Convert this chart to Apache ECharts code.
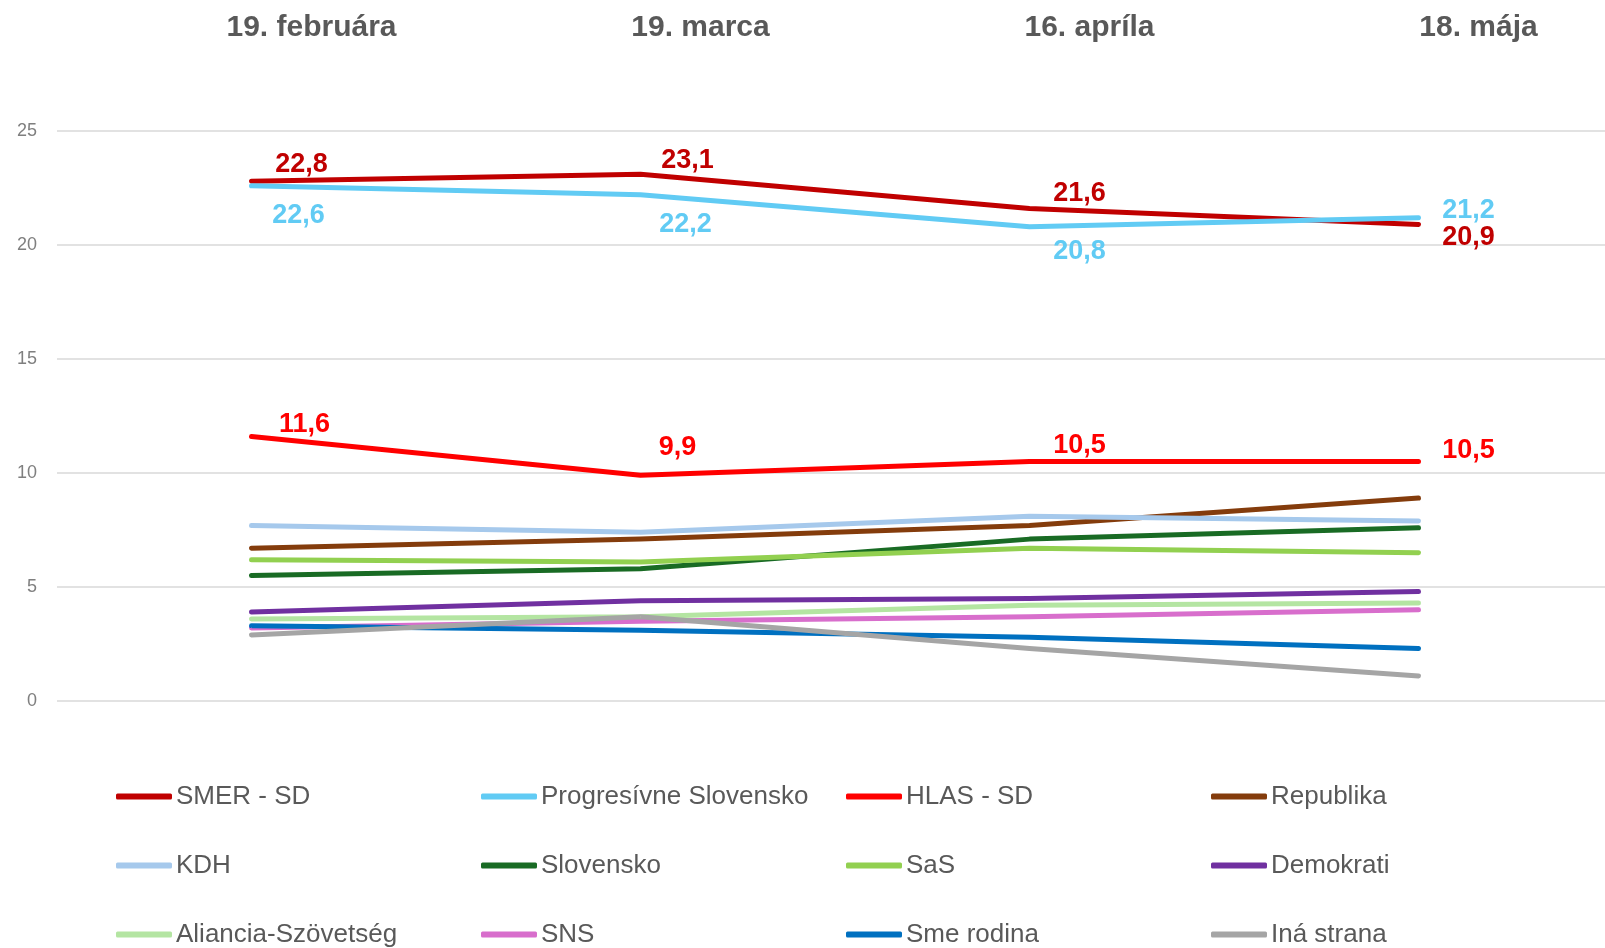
<!DOCTYPE html>
<html>
<head>
<meta charset="utf-8">
<script src="https://cdn.jsdelivr.net/npm/echarts@6/dist/echarts.min.js"></script>
<style>
  html, body { margin: 0; padding: 0; background: #fff; overflow: hidden; }
  /* graf je o kusok sirsi nez okno, posledny stlpec presahuje */
  #chart { width: 1613px; height: 948px; }
</style>
</head>
<body>
<div id="chart"></div>
<script>
// prieskumy - data
const categories = ['19. februára', '19. marca', '16. apríla', '18. mája']
const yTicks = [0, 5, 10, 15, 20, 25]

const parties = [
  'SMER - SD', 'Progresívne Slovensko', 'HLAS - SD', 'Republika',
  'KDH', 'Slovensko', 'SaS', 'Demokrati',
  'Aliancia-Szövetség', 'SNS', 'Sme rodina', 'Iná strana'
]
const smer = [22.8, 23.1, 21.6, 20.9]
const ps = [22.6, 22.2, 20.8, 21.2]
const hlas = [11.6, 9.9, 10.5, 10.5]
const republika = [6.7, 7.1, 7.7, 8.9]
const kdh = [7.7, 7.4, 8.1, 7.9]
const slovensko = [5.5, 5.8, 7.1, 7.6]
const sas = [6.2, 6.1, 6.7, 6.5]
const demokrati = [3.9, 4.4, 4.5, 4.8]
const aliancia = [3.6, 3.7, 4.2, 4.3]
const sns = [3.2, 3.5, 3.7, 4.0]
const smeRodina = [3.3, 3.1, 2.8, 2.3]
const ina = [2.9, 3.7, 2.3, 1.1]

const values = [smer, ps, hlas, republika, kdh, slovensko, sas, demokrati, aliancia, sns, smeRodina, ina]
const colors = [
  '#C00000', '#61CBF4', '#FF0000', '#843C0C',
  '#A6C9EC', '#196B24', '#92D050', '#7030A0',
  '#B4E5A2', '#D86ECC', '#0070C0', '#A5A5A5'
]

// popisky len pre prve tri strany (posun od bodu)
const labelOffsets = {
  0: [[50, -17], [47, -14], [50, -15], [50, 13]],
  1: [[47, 30], [45, 30], [50, 25], [50, -7]],
  2: [[53, -12], [37, -28], [50, -16], [50, -11]]
}

const chart = echarts.init(document.getElementById('chart'))
const fmt = v => String(v).replace('.', ',')

const series = parties.map((name, i) => {
  const offs = labelOffsets[i]
  return {
    name: name,
    type: 'line',
    symbol: 'circle',
    symbolSize: 1,
    showSymbol: true,
    silent: true,
    animation: false,
    color: colors[i],
    lineStyle: { width: 5, cap: 'round', join: 'round', color: colors[i] },
    itemStyle: { color: colors[i] },
    data: values[i].map((v, j) => {
      if (!offs) return v
      return { value: v, label: { offset: offs[j] } }
    }),
    label: {
      show: !!offs,
      position: 'inside',
      formatter: p => fmt(p.value),
      color: colors[i],
      fontSize: 27,
      fontWeight: 'bold',
      fontFamily: 'Liberation Sans, Arial, sans-serif'
    }
  }
})

const option = {
  backgroundColor: '#fff',
  grid: {
    left: 57,
    right: 0,
    top: 131,
    bottom: 247
  },
  xAxis: {
    type: 'category',
    position: 'top',
    data: categories,
    boundaryGap: true,
    axisLine: { show: false },
    axisTick: { show: false },
    splitLine: { show: false },
    axisLabel: {
      margin: 88,
      color: '#595959',
      fontSize: 30,
      fontWeight: 'bold',
      fontFamily: 'Liberation Sans, Arial, sans-serif',
      padding: [0, 0, 0, 120]
    }
  },
  yAxis: {
    type: 'value',
    min: yTicks[0],
    max: yTicks[yTicks.length - 1],
    interval: 5,
    axisLine: { show: false },
    axisTick: { show: false },
    axisLabel: {
      margin: 20,
      color: '#7F7F7F',
      fontSize: 18,
      fontFamily: 'Liberation Sans, Arial, sans-serif'
    },
    splitLine: { lineStyle: { color: '#D9D9D9', width: 1.5 } }
  },
  legend: {
    data: parties,
    left: 111,
    top: 757,
    width: 1490,
    itemGap: 0,
    icon: 'roundRect',
    itemWidth: 56,
    itemHeight: 6,
    selectedMode: false,
    textStyle: {
      color: '#595959',
      fontSize: 26,
      fontFamily: 'Liberation Sans, Arial, sans-serif',
      width: 305,
      lineHeight: 69,
      padding: [0, 0, 0, -1]
    }
  },
  series
}

chart.setOption(option)

window.addEventListener('resize', () => {
  chart.resize()
})
</script>
</body>
</html>
